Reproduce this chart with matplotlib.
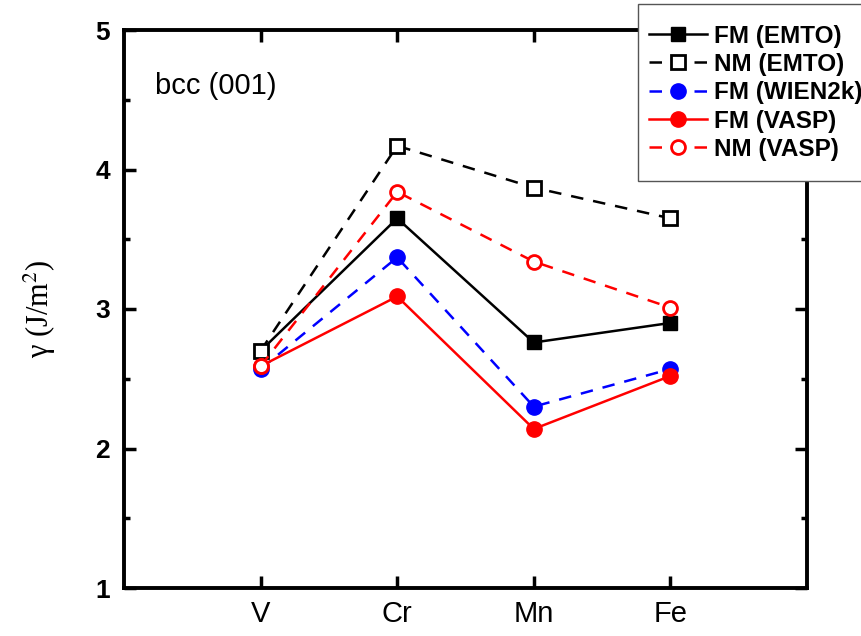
import matplotlib
matplotlib.use("Agg")
import matplotlib.pyplot as plt
from matplotlib.patches import Rectangle
from matplotlib.ticker import MultipleLocator

plt.rcParams['font.family'] = ['Liberation Sans', 'DejaVu Sans']
plt.rcParams['mathtext.fontset'] = 'stix'

elements = ['V', 'Cr', 'Mn', 'Fe']
fm_emto = [2.70, 3.65, 2.76, 2.90]
nm_emto = [2.70, 4.17, 3.87, 3.65]
fm_wien2k = [2.57, 3.37, 2.30, 2.57]
fm_vasp = [2.59, 3.09, 2.14, 2.52]
nm_vasp = [2.59, 3.84, 3.34, 3.01]

fig = plt.figure(figsize=(8.62, 6.36), dpi=100)
ax = fig.add_axes([124/862, 48/636, 683/862, 558/636])

x = list(range(len(elements)))
ms = 10
ax.plot(x, fm_emto, '-', color='black', lw=1.8, marker='s', ms=ms,
        mfc='black', mec='black', label='FM (EMTO)')
ax.plot(x, nm_emto, '--', color='black', lw=1.8, marker='s', ms=ms,
        mfc='white', mec='black', mew=2, dashes=(5, 4), label='NM (EMTO)')
ax.plot(x, fm_wien2k, '--', color='blue', lw=1.8, marker='o', ms=11,
        mfc='blue', mec='blue', dashes=(5, 4), label='FM (WIEN2k)')
ax.plot(x, fm_vasp, '-', color='red', lw=1.8, marker='o', ms=11,
        mfc='red', mec='red', label='FM (VASP)')
ax.plot(x, nm_vasp, '--', color='red', lw=1.8, marker='o', ms=10,
        mfc='white', mec='red', mew=2, dashes=(5, 4), label='NM (VASP)')

ax.set_xlim(-1, 4)
ax.set_ylim(1, 5)
ax.set_xticks(x)
ax.set_xticklabels(elements, fontsize=21)
ax.yaxis.set_major_locator(MultipleLocator(1))
ax.yaxis.set_minor_locator(MultipleLocator(0.5))
for lab in ax.get_yticklabels():
    lab.set_fontweight('bold')
    lab.set_fontsize(19)
ax.tick_params(axis='both', which='both', direction='in', top=True, right=True, width=2.5)
ax.tick_params(axis='both', which='major', length=8.5)
ax.tick_params(axis='y', which='minor', length=4.5)
ax.tick_params(axis='x', pad=9)
ax.tick_params(axis='y', pad=10)
for s in ax.spines.values():
    s.set_linewidth(2.8)

ax.set_ylabel('γ (J/m$^2$)', fontsize=22, family=['Liberation Serif', 'DejaVu Serif'], labelpad=27)
ax.text(0.045, 0.9, 'bcc (001)', transform=ax.transAxes, fontsize=21, va='center')

# legend box drawn separately so it can run off the right edge like the original
fig.patches.append(Rectangle((638/862, 1 - 181/636), 0.3, 177/636, transform=fig.transFigure,
                             facecolor='white', edgecolor='#555555', lw=1, zorder=5))
leg = fig.legend(loc='upper left', bbox_to_anchor=(640/862, 1 - 16/636),
                 prop={'weight': 'bold', 'size': 17.5}, handlelength=2.4,
                 labelspacing=0.22, borderpad=0.35, handletextpad=0.3,
                 borderaxespad=0, frameon=False)
leg.set_zorder(6)

fig.savefig('out.png', dpi=100)
